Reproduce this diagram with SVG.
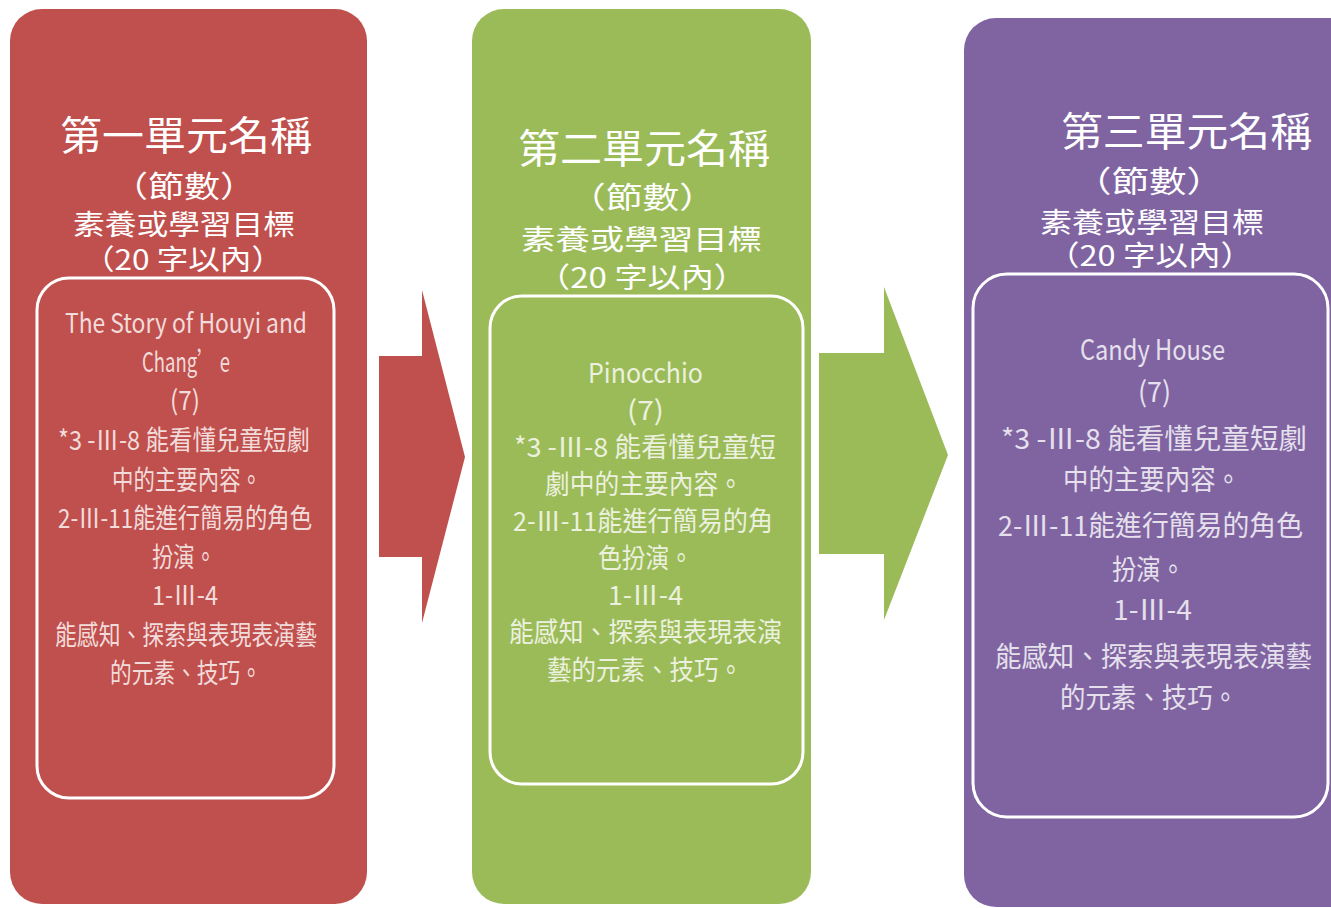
<svg xmlns="http://www.w3.org/2000/svg" width="1331" height="908" viewBox="0 0 1331 908">
<style>
text{font-family:"Noto Sans CJK TC","Noto Sans CJK JP",sans-serif;}
.t1{font-size:40px;fill:#fff;}
.t2{font-size:30px;fill:#fff;}
.t3{font-size:28px;fill:#fff;}
.in{font-size:27px;}
.inp{font-size:28px;}
.frame{fill:none;stroke:#fff;stroke-width:3;}
</style>
<rect width="1331" height="908" fill="#fff"/>
<g id="connectors">
<polygon id="arrow1" points="379,356 422,356 422,290 465,457 422,623 422,557 379,557" fill="#C0504D"/>
<polygon id="arrow2" points="819,353 884,353 884,287 948,455 884,620 884,554 819,554" fill="#9BBB59"/>
</g>
<g id="unit1">
<rect x="10" y="9" width="357" height="895" rx="32" fill="#C0504D"/>
<rect class="frame" x="37" y="278" width="297" height="520" rx="32"/>
<text class="t1" x="60" y="150" textLength="252" lengthAdjust="spacingAndGlyphs">第一單元名稱</text>
<text class="t2" x="112" y="197" textLength="144" lengthAdjust="spacingAndGlyphs">（節數）</text>
<text class="t3" x="73" y="235" textLength="222" lengthAdjust="spacingAndGlyphs">素養或學習目標</text>
<text class="t3" x="83" y="270" textLength="200" lengthAdjust="spacingAndGlyphs">（20 字以內）</text>
<g fill="#F2DCDB" class="in">
<text x="65" y="333" textLength="242" lengthAdjust="spacingAndGlyphs">The Story of Houyi and</text>
<text x="142" y="372" textLength="88" lengthAdjust="spacingAndGlyphs">Chang’ e</text>
<text x="170" y="410" textLength="30" lengthAdjust="spacingAndGlyphs">(7)</text>
<text x="58" y="450" textLength="252" lengthAdjust="spacingAndGlyphs">*3 -Ⅲ-8 能看懂兒童短劇</text>
<text x="112" y="490" textLength="150" lengthAdjust="spacingAndGlyphs">中的主要內容。</text>
<text x="58" y="528" textLength="254" lengthAdjust="spacingAndGlyphs">2-Ⅲ-11能進行簡易的角色</text>
<text x="152" y="567" textLength="64" lengthAdjust="spacingAndGlyphs">扮演。</text>
<text x="152" y="605" textLength="66" lengthAdjust="spacingAndGlyphs">1-Ⅲ-4</text>
<text x="55" y="645" textLength="262" lengthAdjust="spacingAndGlyphs">能感知、探索與表現表演藝</text>
<text x="110" y="683" textLength="152" lengthAdjust="spacingAndGlyphs">的元素、技巧。</text>
</g>
</g>
<g id="unit2">
<rect x="472" y="9" width="339" height="895" rx="32" fill="#9BBB59"/>
<rect class="frame" x="490" y="296" width="313" height="488" rx="32"/>
<text class="t1" x="518" y="163" textLength="252" lengthAdjust="spacingAndGlyphs">第二單元名稱</text>
<text class="t2" x="569" y="208" textLength="147" lengthAdjust="spacingAndGlyphs">（節數）</text>
<text class="t3" x="521" y="250" textLength="241" lengthAdjust="spacingAndGlyphs">素養或學習目標</text>
<text class="t3" x="537" y="288" textLength="210" lengthAdjust="spacingAndGlyphs">（20 字以內）</text>
<g fill="#EBF1DE" class="in">
<text x="588" y="383" textLength="115" lengthAdjust="spacingAndGlyphs">Pinocchio</text>
<text x="627" y="420" textLength="37" lengthAdjust="spacingAndGlyphs">(7)</text>
<text x="514" y="457" textLength="262" lengthAdjust="spacingAndGlyphs">*3 -Ⅲ-8 能看懂兒童短</text>
<text x="545" y="494" textLength="198" lengthAdjust="spacingAndGlyphs">劇中的主要內容。</text>
<text x="513" y="531" textLength="260" lengthAdjust="spacingAndGlyphs">2-Ⅲ-11能進行簡易的角</text>
<text x="598" y="568" textLength="95" lengthAdjust="spacingAndGlyphs">色扮演。</text>
<text x="608" y="605" textLength="75" lengthAdjust="spacingAndGlyphs">1-Ⅲ-4</text>
<text x="509" y="642" textLength="273" lengthAdjust="spacingAndGlyphs">能感知、探索與表現表演</text>
<text x="547" y="680" textLength="196" lengthAdjust="spacingAndGlyphs">藝的元素、技巧。</text>
</g>
</g>
<g id="unit3">
<rect x="964" y="18" width="420" height="889" rx="32" fill="#8064A2"/>
<rect class="frame" x="973" y="274" width="355" height="543" rx="34"/>
<text class="t1" x="1061" y="146" textLength="251" lengthAdjust="spacingAndGlyphs">第三單元名稱</text>
<text class="t2" x="1074" y="192" textLength="150" lengthAdjust="spacingAndGlyphs">（節數）</text>
<text class="t3" x="1040" y="233" textLength="224" lengthAdjust="spacingAndGlyphs">素養或學習目標</text>
<text class="t3" x="1047" y="266" textLength="206" lengthAdjust="spacingAndGlyphs">（20 字以內）</text>
<g fill="#E5E0EC" class="inp">
<text x="1080" y="360" textLength="145" lengthAdjust="spacingAndGlyphs">Candy House</text>
<text x="1138" y="402" textLength="33" lengthAdjust="spacingAndGlyphs">(7)</text>
<text x="1001" y="449" textLength="306" lengthAdjust="spacingAndGlyphs">*3 -Ⅲ-8 能看懂兒童短劇</text>
<text x="1063" y="490" textLength="178" lengthAdjust="spacingAndGlyphs">中的主要內容。</text>
<text x="998" y="536" textLength="305" lengthAdjust="spacingAndGlyphs">2-Ⅲ-11能進行簡易的角色</text>
<text x="1112" y="580" textLength="73" lengthAdjust="spacingAndGlyphs">扮演。</text>
<text x="1113" y="620" textLength="79" lengthAdjust="spacingAndGlyphs">1-Ⅲ-4</text>
<text x="995" y="667" textLength="317" lengthAdjust="spacingAndGlyphs">能感知、探索與表現表演藝</text>
<text x="1060" y="708" textLength="178" lengthAdjust="spacingAndGlyphs">的元素、技巧。</text>
</g>
</g>
</svg>
